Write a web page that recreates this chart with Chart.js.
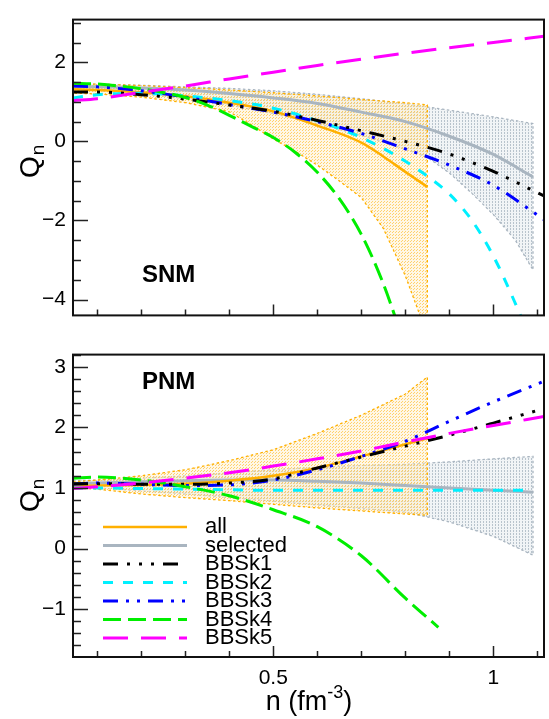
<!DOCTYPE html>
<html>
<head>
<meta charset="utf-8">
<script src="https://cdn.jsdelivr.net/npm/chart.js@4.4.1/dist/chart.umd.min.js"></script>
<style>
  html, body { margin: 0; padding: 0; background: #fff; }
  #wrap { position: relative; width: 549px; height: 719px; }
  canvas { position: absolute; left: 0; }
  #snm { top: 0; }
  #pnm { top: 335px; }
</style>
</head>
<body>
<div id="wrap">
  <canvas id="snm" width="549" height="335"></canvas>
  <canvas id="pnm" width="549" height="384"></canvas>
</div>
<script>
// density grids (fm^-3)
const nGrid = [0.045, 0.1, 0.2, 0.3, 0.4, 0.5, 0.6, 0.7, 0.8, 0.9, 1.0, 1.115];
const nSel = [0.045, 0.1, 0.2, 0.3, 0.4, 0.5, 0.6, 0.7, 0.8, 0.9, 1.0, 1.09];
const nAll = [0.045, 0.1, 0.2, 0.3, 0.4, 0.5, 0.6, 0.7, 0.75, 0.8, 0.85];
const nBandAll = [0.045, 0.1, 0.2, 0.3, 0.4, 0.5, 0.6, 0.7, 0.8, 0.85];

// SNM panel
const snmBBSk1 = [1.25, 1.25, 1.18, 1.07, 0.92, 0.76, 0.53, 0.27, 0.0, -0.32, -0.76, -1.38];
const snmBBSk3 = [1.40, 1.38, 1.28, 1.12, 0.93, 0.74, 0.50, 0.20, -0.19, -0.60, -1.11, -1.98];
const snmBBSk5 = [1.03, 1.08, 1.24, 1.40, 1.58, 1.75, 1.92, 2.08, 2.23, 2.37, 2.50, 2.66];
const snmNBBSk2 = [0.045, 0.1, 0.2, 0.3, 0.4, 0.5, 0.6, 0.7, 0.8, 0.85, 0.9, 0.95, 1.0, 1.05, 1.08];
const snmBBSk2 = [1.10, 1.18, 1.22, 1.15, 1.03, 0.84, 0.52, 0.10, -0.50, -0.88, -1.33, -1.98, -2.9, -4.1, -4.9];
const snmNBBSk4 = [0.045, 0.1, 0.2, 0.3, 0.35, 0.4, 0.45, 0.5, 0.55, 0.6, 0.65, 0.7, 0.75, 0.8];
const snmBBSk4 = [1.47, 1.45, 1.33, 1.11, 0.92, 0.66, 0.38, 0.10, -0.28, -0.78, -1.45, -2.35, -3.6, -5.2];
const snmSelected = [1.38, 1.38, 1.35, 1.30, 1.21, 1.10, 0.96, 0.74, 0.50, 0.13, -0.33, -0.90];
const snmAll = [1.32, 1.30, 1.24, 1.14, 0.98, 0.76, 0.40, -0.03, -0.38, -0.77, -1.15];
const snmAllHi = [1.45, 1.45, 1.41, 1.36, 1.30, 1.23, 1.15, 1.06, 0.98, 0.92];
const snmNAllLo = [0.045, 0.1, 0.2, 0.3, 0.4, 0.45, 0.5, 0.55, 0.6, 0.65, 0.7, 0.75, 0.8, 0.85];
const snmAllLo = [1.22, 1.20, 1.12, 0.98, 0.75, 0.42, 0.06, -0.25, -0.60, -1.00, -1.42, -2.20, -3.40, -4.90];
const snmSelHi = [1.45, 1.45, 1.42, 1.38, 1.34, 1.28, 1.19, 1.08, 0.95, 0.79, 0.62, 0.45];
const snmNSelLo = [0.045, 0.1, 0.2, 0.3, 0.4, 0.5, 0.6, 0.7, 0.8, 0.85, 0.9, 0.95, 1.0, 1.05, 1.09];
const snmSelLo = [1.30, 1.28, 1.20, 1.08, 0.92, 0.70, 0.45, 0.15, -0.20, -0.40, -0.80, -1.30, -1.85, -2.50, -3.25];

// PNM panel
const pnmBBSk1 = [1.07, 1.07, 1.06, 1.06, 1.08, 1.15, 1.33, 1.51, 1.69, 1.87, 2.07, 2.31];
const pnmBBSk3 = [1.06, 1.08, 1.06, 1.04, 1.05, 1.13, 1.30, 1.52, 1.77, 2.10, 2.42, 2.76];
const pnmBBSk5 = [0.99, 1.02, 1.08, 1.16, 1.25, 1.36, 1.48, 1.61, 1.76, 1.90, 2.03, 2.18];
const pnmNBBSk2 = [0.045, 0.1, 0.2, 0.3, 0.4, 0.5, 0.6, 0.7, 0.8, 0.9, 1.0, 1.07];
const pnmBBSk2 = [1.0, 1.0, 0.99, 0.98, 0.97, 0.96, 0.96, 0.96, 0.96, 0.96, 0.96, 0.96];
const pnmNBBSk4 = [0.045, 0.1, 0.2, 0.3, 0.4, 0.5, 0.6, 0.7, 0.8, 0.875];
const pnmBBSk4 = [1.16, 1.18, 1.13, 1.02, 0.87, 0.64, 0.36, -0.12, -0.82, -1.30];
const pnmSelected = [1.07, 1.08, 1.10, 1.12, 1.13, 1.13, 1.11, 1.08, 1.04, 1.00, 0.96, 0.93];
const pnmAll = [1.03, 1.04, 1.05, 1.07, 1.12, 1.20, 1.33, 1.52, 1.62, 1.72, 1.82];
const pnmAllHi = [1.10, 1.13, 1.20, 1.30, 1.45, 1.63, 1.90, 2.20, 2.55, 2.83];
const pnmAllLo = [1.00, 0.98, 0.90, 0.84, 0.79, 0.73, 0.67, 0.62, 0.57, 0.55];
const pnmSelHi = [1.12, 1.13, 1.16, 1.20, 1.25, 1.30, 1.34, 1.37, 1.39, 1.43, 1.48, 1.52];
const pnmSelLo = [1.02, 1.00, 0.95, 0.90, 0.84, 0.78, 0.72, 0.66, 0.60, 0.44, 0.20, -0.11];

const legendLabels = ['all', 'selected', 'BBSk1', 'BBSk2', 'BBSk3', 'BBSk4', 'BBSk5'];

const FONT = "'Liberation Sans', Arial, Helvetica, sans-serif";
const styles = {
  all:      { color: '#ffb000', width: 2.5, dash: [] },
  selected: { color: '#a9b5c0', width: 3, dash: [] },
  BBSk1:    { color: '#000000', width: 3, dash: [15, 9, 3, 9, 3, 9, 3, 9] },
  BBSk2:    { color: '#00f0ff', width: 3, dash: [10, 10] },
  BBSk3:    { color: '#0000ff', width: 3, dash: [15, 8, 3, 8, 3, 8] },
  BBSk4:    { color: '#00ee00', width: 3, dash: [18, 7] },
  BBSk5:    { color: '#ff00ff', width: 3, dash: [25, 13] }
};

function xy(ns, qs) {
  return ns.map((n, i) => ({ x: n, y: qs[i] }));
}

// closed outline: upper edge left->right, lower edge right->left
function bandShape(nHi, hi, nLo, lo) {
  return xy(nHi, hi).concat(xy(nLo, lo).reverse());
}

function makePattern(bg, fg, cells) {
  const c = document.createElement('canvas');
  c.width = 3; c.height = 3;
  const g = c.getContext('2d');
  g.fillStyle = bg;
  g.fillRect(0, 0, 3, 3);
  g.fillStyle = fg;
  cells.forEach(p => g.fillRect(p[0], p[1], 1, 1));
  return g.createPattern(c, 'repeat');
}
const orangeFill = makePattern('rgba(255,238,200,0.45)', 'rgba(255,196,70,0.75)', [[0, 0], [2, 1]]);
const greyFill = makePattern('rgba(225,230,236,0.45)', 'rgba(170,182,194,0.8)', [[0, 0], [0, 1]]);

function line(name, data, order) {
  const s = styles[name];
  return {
    label: name, data: data, order: order,
    borderColor: s.color, borderWidth: s.width, borderDash: s.dash,
    fill: false, pointRadius: 0, cubicInterpolationMode: 'monotone', clip: 0
  };
}

function band(data, color, fillStyle, order) {
  return {
    data: data, order: order,
    borderColor: color, borderWidth: 1.3, borderDash: [2.5, 2.5],
    backgroundColor: fillStyle, fill: 'shape', pointRadius: 0, tension: 0, clip: 0
  };
}

function isMult(v, step) {
  const r = v / step;
  return Math.abs(r - Math.round(r)) < 1e-6;
}

function fmt(v) {
  const r = Math.round(v * 10) / 10;
  return r < 0 ? '\u2212' + Math.abs(r) : String(r);
}

// frame, inward ticks and the text bits ROOT puts on the pad
const decor = {
  id: 'decor',
  afterDatasetsDraw(chart, args, o) {
    const { ctx, chartArea: a } = chart;
    const x = chart.scales.x, y = chart.scales.y;
    ctx.save();
    ctx.strokeStyle = '#222';
    ctx.lineWidth = 1.5;
    ctx.beginPath();
    y.ticks.forEach(t => {
      const py = Math.round(y.getPixelForValue(t.value)) + 0.5;
      const len = isMult(t.value, o.yMajor) ? 15 : 8;
      ctx.moveTo(a.left, py); ctx.lineTo(a.left + len, py);
    });
    x.ticks.forEach(t => {
      const px = Math.round(x.getPixelForValue(t.value)) + 0.5;
      const len = isMult(t.value, 0.5) ? 11 : 6;
      ctx.moveTo(px, a.bottom); ctx.lineTo(px, a.bottom - len);
    });
    ctx.stroke();
    ctx.lineWidth = 2;
    ctx.strokeStyle = '#111';
    ctx.strokeRect(a.left, a.top, a.right - a.left, a.bottom - a.top);

    // panel tag
    ctx.fillStyle = '#000';
    ctx.font = 'bold 24px ' + FONT;
    ctx.textBaseline = 'alphabetic';
    ctx.fillText(o.tag, o.tagX, o.tagY);

    // y title Q_n
    ctx.save();
    ctx.translate(39, o.qY);
    ctx.rotate(-Math.PI / 2);
    ctx.font = '28px ' + FONT;
    ctx.fillText('Q', 0, 0);
    const wq = ctx.measureText('Q').width;
    ctx.font = '19px ' + FONT;
    ctx.fillText('n', wq + 1, 5);
    ctx.restore();

    if (o.legend) {
      const ds = chart.data.datasets;
      legendLabels.forEach((lab, i) => {
        const s = styles[lab];
        const ly = o.legend.y + i * o.legend.step;
        ctx.strokeStyle = s.color;
        ctx.lineWidth = s.width;
        ctx.setLineDash(s.dash);
        ctx.beginPath();
        ctx.moveTo(o.legend.x0, ly); ctx.lineTo(o.legend.x1, ly);
        ctx.stroke();
        ctx.setLineDash([]);
        ctx.fillStyle = '#000';
        ctx.font = '22px ' + FONT;
        ctx.textBaseline = 'middle';
        ctx.fillText(lab, o.legend.tx, ly);
      });
    }

    if (o.xTitle) {
      ctx.textBaseline = 'alphabetic';
      ctx.fillStyle = '#000';
      const big = '27px ' + FONT, small = '18px ' + FONT;
      ctx.font = big;
      const w1 = ctx.measureText('n (fm').width;
      const w3 = ctx.measureText(')').width;
      ctx.font = small;
      const w2 = ctx.measureText('-3').width;
      let px = o.xTitle.cx - (w1 + w2 + w3) / 2;
      ctx.font = big;
      ctx.fillText('n (fm', px, o.xTitle.y);
      ctx.font = small;
      ctx.fillText('-3', px + w1, o.xTitle.y - 12);
      ctx.font = big;
      ctx.fillText(')', px + w1 + w2, o.xTitle.y);
    }
    ctx.restore();
  }
};

function makePanel(id, p) {
  return new Chart(document.getElementById(id), {
    type: 'line',
    data: { datasets: p.datasets },
    options: {
      responsive: false,
      animation: false,
      devicePixelRatio: 1,
      layout: { padding: { top: p.top, right: 5, left: 0, bottom: 0 } },
      plugins: { legend: { display: false }, tooltip: { enabled: false }, decor: p.decor },
      scales: {
        x: {
          type: 'linear', min: 0.045, max: 1.115,
          afterFit: s => { s.height = p.xHeight; },
          grid: { display: false, drawTicks: false }, border: { display: false },
          ticks: {
            display: p.xLabels, stepSize: 0.1, autoSkip: false, includeBounds: false,
            maxRotation: 0, padding: 9, color: '#000', font: { family: FONT, size: 21 },
            callback: v => (isMult(v, 0.5) ? fmt(v) : '')
          }
        },
        y: {
          type: 'linear', min: p.yMin, max: p.yMax,
          afterFit: s => { s.width = 73; },
          grid: { display: false, drawTicks: false }, border: { display: false },
          ticks: {
            stepSize: p.yStep, autoSkip: false, includeBounds: false, padding: 7,
            color: '#000', font: { family: FONT, size: 21 },
            callback: v => (isMult(v, p.yMajor) ? fmt(v) : '')
          }
        }
      }
    },
    plugins: [decor]
  });
}

makePanel('snm', {
  top: 5, xHeight: 12, xLabels: false,
  yMin: -4.4, yMax: 3.08, yStep: 0.5, yMajor: 2,
  decor: { yMajor: 2, tag: 'SNM', tagX: 142, tagY: 282, qY: 178 },
  datasets: [
    band(bandShape(nSel, snmSelHi, snmNSelLo, snmSelLo), '#a9b5c0', greyFill, 20),
    band(bandShape(nBandAll, snmAllHi, snmNAllLo, snmAllLo), '#ffb000', orangeFill, 19),
    line('selected', xy(nSel, snmSelected), 12),
    line('all', xy(nAll, snmAll), 11),
    line('BBSk2', xy(snmNBBSk2, snmBBSk2), 6),
    line('BBSk3', xy(nGrid, snmBBSk3), 5),
    line('BBSk1', xy(nGrid, snmBBSk1), 4),
    line('BBSk4', xy(snmNBBSk4, snmBBSk4), 3),
    line('BBSk5', xy(nGrid, snmBBSk5), 2)
  ]
});

makePanel('pnm', {
  top: 3, xHeight: 62, xLabels: true,
  yMin: -1.79, yMax: 3.2, yStep: 0.2, yMajor: 1,
  decor: {
    yMajor: 1, tag: 'PNM', tagX: 142, tagY: 54, qY: 177,
    legend: { x0: 103, x1: 187, tx: 205, y: 192, step: 18.5 },
    xTitle: { cx: 309, y: 375 }
  },
  datasets: [
    band(bandShape(nSel, pnmSelHi, nSel, pnmSelLo), '#a9b5c0', greyFill, 20),
    band(bandShape(nBandAll, pnmAllHi, nBandAll, pnmAllLo), '#ffb000', orangeFill, 19),
    line('selected', xy(nSel, pnmSelected), 12),
    line('all', xy(nAll, pnmAll), 11),
    line('BBSk2', xy(pnmNBBSk2, pnmBBSk2), 6),
    line('BBSk3', xy(nGrid, pnmBBSk3), 5),
    line('BBSk1', xy(nGrid, pnmBBSk1), 4),
    line('BBSk4', xy(pnmNBBSk4, pnmBBSk4), 3),
    line('BBSk5', xy(nGrid, pnmBBSk5), 2)
  ]
});
</script>
</body>
</html>
